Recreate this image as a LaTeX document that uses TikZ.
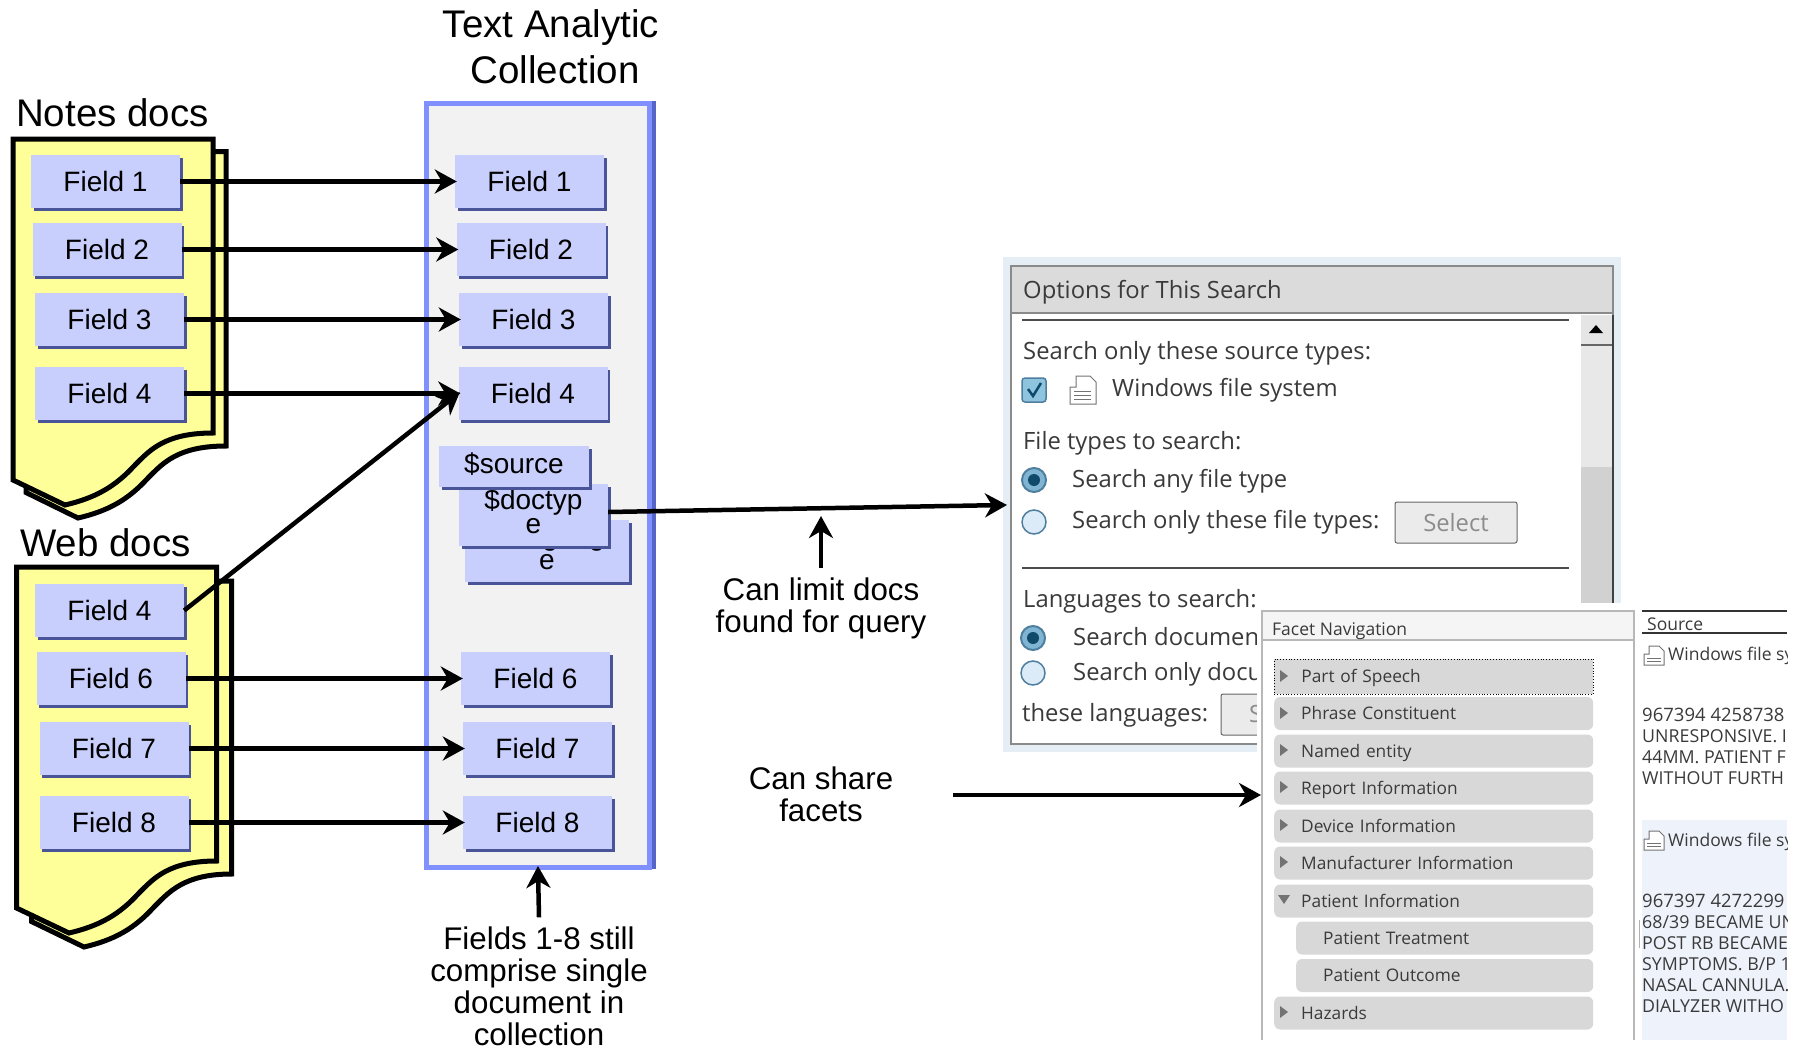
\documentclass[tikz,border=0pt]{standalone}
\usepackage{fontspec}
\setmainfont{Liberation Sans}
\newfontfamily\uifont{Open Sans}
\usetikzlibrary{arrows.meta,shadows}
\definecolor{sheetyellow}{HTML}{FFFF99}
\definecolor{fieldblue}{HTML}{C8CFFC}
\definecolor{fieldshade}{HTML}{4A5499}
\definecolor{colblue}{HTML}{8090FF}
\definecolor{coldark}{HTML}{5565C8}
\definecolor{colgray}{HTML}{F2F2F2}
\definecolor{uitext}{HTML}{3A3A3A}
\definecolor{uirow}{HTML}{D8D8D8}
\definecolor{uihalo}{HTML}{E4EEF4}
\definecolor{uirule}{HTML}{8A8A8A}
\definecolor{uiblue}{HTML}{EEF3FB}
\definecolor{radioring}{HTML}{4F7F9E}
\definecolor{radiopale}{HTML}{DCEBF8}
\definecolor{radiofill}{HTML}{7FB4D2}
\definecolor{radiodot}{HTML}{0F4A6A}
\definecolor{checkfill}{HTML}{8FC4DF}
\begin{document}
\begin{tikzpicture}[x=1pt, y=-1pt,
  sheet/.style={draw=black, fill=sheetyellow, line width=5pt, line join=miter},
  fieldbox/.style={fill=fieldblue, minimum width=149pt, minimum height=53pt, inner sep=0pt, align=center, font=\fontsize{28}{24}\selectfont, drop shadow={shadow xshift=2.5pt, shadow yshift=-2.5pt, fill=fieldshade, opacity=1}},
  flow/.style={-{Stealth[length=22pt,width=24pt,inset=7pt]}, line width=4.5pt, shorten >=-2pt},
  bigtext/.style={inner sep=0pt, font=\fontsize{38.5}{44}\selectfont},
  notetext/.style={inner sep=9pt, align=center, font=\fontsize{31.3}{32}\selectfont},
  uilabel/.style={anchor=west, inner sep=0pt, text=uitext, text height=18pt, text depth=2pt, font=\uifont\fontsize{23.8}{24}\selectfont},
  uismall/.style={anchor=west, inner sep=0pt, text=uitext, text height=16pt, text depth=2pt, font=\uifont\fontsize{17.5}{18}\selectfont},
  uicaps/.style={uismall, font=\uifont\fontsize{17.8}{18}\selectfont},
  uicode/.style={uismall, font=\uifont\fontsize{18.5}{19}\selectfont},
  facetrow/.style={anchor=west, fill=uirow, rounded corners=6pt, minimum height=33pt, text width=265pt, inner xsep=27pt, inner ysep=0pt, align=left, text=uitext, text height=15pt, text depth=3pt, font=\uifont\fontsize{17.3}{18}\selectfont},
  facetsub/.style={facetrow, text width=243pt},
  radio/.style={draw=radioring, line width=1.5pt, fill=radiopale},
  radioon/.style={draw=radioring, line width=2pt, fill=radiofill},
  uimark/.style={fill=black!55},
  iconline/.style={draw=black!55, line width=1pt}]
\useasboundingbox (0,0) rectangle (1798,1049);
\fill[white] (0,0) rectangle (1798,1049);

\node[bigtext] (TITLEA) at (551,28) {Text Analytic};
\node[bigtext] (TITLEB) at (555,69.5) {Collection};
\node[bigtext, anchor=west] (NOTESLBL) at (16,113) {Notes docs};
\node[bigtext, anchor=west] (WEBLBL) at (20,543) {Web docs};

\draw[sheet] (26,151.5) -- (226,151.5) -- (226,446) .. controls (178,446) and (163,463) .. (148,478) .. controls (128,500) and (108,511) .. (78,518) -- (26,492.5) -- cycle;
\draw[sheet] (13,139) -- (213,139) -- (213,433) .. controls (165,433) and (150,450) .. (135,465) .. controls (115,487) and (95,498) .. (65,505) -- (13,480) -- cycle;
\draw[sheet] (31.5,581) -- (231.5,581) -- (231.5,874) .. controls (184,874) and (169,892) .. (154,907) .. controls (134,929) and (114,940) .. (84,947) -- (31.5,921.5) -- cycle;
\draw[sheet] (16.5,567) -- (216.5,567) -- (216.5,861) .. controls (169,861) and (154,878) .. (139,893) .. controls (119,915) and (99,926) .. (69,933) -- (16.5,908) -- cycle;

\node[draw=colblue, fill=colgray, line width=5pt, minimum width=223pt, minimum height=764pt, inner sep=0pt] (COLBOX) at (538,485) {};
\draw[coldark, line width=4pt] (654,101) -- (654,869);

\node[fieldbox] (L1) at (105.5,181.5) {Field 1};
\node[fieldbox] (L2) at (107,249.5) {Field 2};
\node[fieldbox] (L3) at (109.5,319.5) {Field 3};
\node[fieldbox] (L4) at (109.5,393.5) {Field 4};
\node[fieldbox] (W4) at (109.5,610.5) {Field 4};
\node[fieldbox] (W6) at (111,678.5) {Field 6};
\node[fieldbox] (W7) at (114,748.5) {Field 7};
\node[fieldbox] (W8) at (114,822.5) {Field 8};

\node[fieldbox] (R1) at (529.5,181.5) {Field 1};
\node[fieldbox] (R2) at (531,249.5) {Field 2};
\node[fieldbox] (R3) at (533.5,319.5) {Field 3};
\node[fieldbox] (R4) at (533,393.5) {Field 4};
\node[fieldbox] (R6) at (535.5,678.5) {Field 6};
\node[fieldbox] (R7) at (537.5,748.5) {Field 7};
\node[fieldbox] (R8) at (537.5,822.5) {Field 8};
\node[fieldbox, minimum width=164pt, minimum height=62pt] (RLANG) at (547,551) {\$languag\\e\\[-16pt]\mbox{}};
\node[fieldbox, minimum height=62pt] (RTYPE) at (533.5,515) {\$doctyp\\e\\[-16pt]\mbox{}};
\node[fieldbox, minimum width=150pt, minimum height=41pt] (RSRC) at (514,466.5) {\$source\\[-17pt]\mbox{}};

\draw[flow] (L1.east) -- (R1.west);
\draw[flow] (L2.east) -- (R2.west);
\draw[flow] (L3.east) -- (R3.west);
\draw[flow] (L4.east) -- (R4.west);
\draw[flow] (W4.east) -- (R4.west);
\draw[flow] (W6.east) -- (R6.west);
\draw[flow] (W7.east) -- (R7.west);
\draw[flow] (W8.east) -- (R8.west);

\node[notetext] (LIMITLBL) at (821,608) {Can limit docs\\found for query};
\node[notetext] (SHARELBL) at (821,794.5) {Can share\\facets};
\node[notetext] (FIELDSLBL) at (539,986) {Fields 1-8 still\\comprise single\\document in\\collection};

\fill[uihalo] (1003,257) rectangle (1621,752);
\draw[fill=white, draw=uirule, line width=2pt] (1011,266) rectangle (1613,744);
\fill[black!14, draw=uirule, line width=2pt] (1011,266) rectangle (1613,313);
\node[uilabel] (OPTTITLE) at (1023,290) {Options for This Search};
\draw[black!70, line width=1.5pt] (1022,320) -- (1569,320);
\draw[black!70, line width=1.5pt] (1022,568) -- (1569,568);
\fill[black!9] (1581,345) rectangle (1612,467);
\fill[black!18] (1581,467) rectangle (1612,604);
\fill[black!10] (1581,315) rectangle (1612,345);
\draw[black!60, line width=2pt] (1581,345) -- (1612,345);
\fill[black] (1589,333) -- (1603,333) -- (1596,325) -- cycle;
\draw[black!75, line width=2pt] (1613,315) -- (1613,603);
\node[uilabel] (OPTSRC) at (1023,351) {Search only these source types:};
\draw[draw=radioring, fill=checkfill, rounded corners=3pt, line width=1.5pt] (1022,378) rectangle (1046,402);
\draw[radiodot, line width=2.5pt] (1028,389) -- (1033,396) -- (1041,383);
\draw[iconline, fill=white] (1076,376) -- (1090,376) -- (1096,382) -- (1096,404) -- (1070,404) -- (1070,387) -- (1076,387) -- cycle;
\draw[iconline] (1074,391) -- (1091,391);
\draw[iconline] (1074,395) -- (1091,395);
\draw[iconline] (1074,399) -- (1091,399);
\node[uilabel] (OPTWIN) at (1112,388) {Windows file system};
\node[uilabel] (OPTTYPES) at (1023,441) {File types to search:};
\draw[radioon] (1034,480) circle (12);
\fill[radiodot] (1034,480) circle (6);
\node[uilabel] (OPTANY) at (1072,479) {Search any file type};
\draw[radio] (1034,522) circle (12);
\node[uilabel] (OPTONLY) at (1072,520) {Search only these file types:};
\node[draw=black!60, fill=black!8, rounded corners=2pt, line width=1pt, minimum width=122pt, minimum height=41pt, inner sep=0pt, text=black!45, font=\uifont\fontsize{23.8}{24}\selectfont] (OPTSELECT) at (1456,522.5) {Select};
\node[uilabel] (OPTLANG) at (1023,599) {Languages to search:};
\draw[radioon] (1033,638) circle (12);
\fill[radiodot] (1033,638) circle (6);
\node[uilabel] (OPTDOC) at (1073,637) {Search documen};
\draw[radio] (1033,673) circle (12);
\node[uilabel] (OPTDOCU) at (1073,672) {Search only docu};
\node[uilabel] (OPTTHESE) at (1022,713) {these languages:};
\draw[draw=black!60, fill=black!8, rounded corners=2pt, line width=1pt] (1221,694) rectangle (1300,735);
\node[uilabel, text=black!45] (OPTS) at (1249,714) {S};

\fill[white] (1257,603) rectangle (1798,1049);
\fill[black!4] (1262,611) rectangle (1634,640);
\draw[black!28, line width=1.5pt] (1262,1040) -- (1262,611) -- (1634,611) -- (1634,1040);
\draw[black!28, line width=1.5pt] (1262,640) -- (1634,640);
\node[uismall] (FACETTITLE) at (1272,628) {Facet Navigation};
\node[facetrow, rounded corners=0pt, draw=black, dotted, line width=.8pt, minimum height=35pt] (FR1) at (1274,676.5) {Part of Speech};
\node[facetrow] (FR2) at (1274,713.5) {Phrase Constituent};
\node[facetrow] (FR3) at (1274,751) {Named entity};
\node[facetrow] (FR4) at (1274,788) {Report Information};
\node[facetrow] (FR5) at (1274,826) {Device Information};
\node[facetrow] (FR6) at (1274,863) {Manufacturer Information};
\node[facetrow] (FR7) at (1274,901) {Patient Information};
\node[facetsub] (FR8) at (1296,938) {Patient Treatment};
\node[facetsub] (FR9) at (1296,975.5) {Patient Outcome};
\node[facetrow] (FR10) at (1274,1013) {Hazards};
\fill[uimark] (1280,670) -- (1280,682) -- (1288,676) -- cycle;
\fill[uimark] (1280,707) -- (1280,719) -- (1288,713) -- cycle;
\fill[uimark] (1280,744) -- (1280,756) -- (1288,750) -- cycle;
\fill[uimark] (1280,781) -- (1280,793) -- (1288,787) -- cycle;
\fill[uimark] (1280,819) -- (1280,831) -- (1288,825) -- cycle;
\fill[uimark] (1280,856) -- (1280,868) -- (1288,862) -- cycle;
\fill[uimark] (1278,895) -- (1290,895) -- (1284,904) -- cycle;
\fill[uimark] (1280,1006) -- (1280,1018) -- (1288,1012) -- cycle;

\begin{scope}
\clip (1636,605) rectangle (1787,1040);
\fill[uiblue] (1642,820) rectangle (1787,1040);
\draw[black!80, line width=1.5pt] (1642,611) -- (1787,611);
\draw[black!80, line width=1.5pt] (1642,633) -- (1787,633);
\node[uismall] (SRCHEAD) at (1647,623) {Source};
\draw[iconline, fill=white] (1649,646) -- (1659,646) -- (1664,651) -- (1664,665) -- (1644,665) -- (1644,654) -- (1649,654) -- cycle;
\draw[iconline] (1647,658) -- (1661,658);
\draw[iconline] (1647,661) -- (1661,661);
\node[uismall] (SRCWINA) at (1668,653) {Windows file sy};
\node[uicode] (SRCA1) at (1642,714) {967394 4258738};
\node[uicaps] (SRCA2) at (1642,735) {UNRESPONSIVE. I};
\node[uicaps] (SRCA3) at (1642,756) {44MM. PATIENT F};
\node[uicaps] (SRCA4) at (1642,777) {WITHOUT FURTH};
\draw[iconline, fill=white] (1649,831) -- (1659,831) -- (1664,836) -- (1664,850) -- (1644,850) -- (1644,839) -- (1649,839) -- cycle;
\draw[iconline] (1647,843) -- (1661,843);
\draw[iconline] (1647,846) -- (1661,846);
\node[uismall] (SRCWINB) at (1668,839) {Windows file sy};
\node[uicode] (SRCB1) at (1642,900) {967397 4272299};
\node[uicaps] (SRCB2) at (1642,921) {68/39 BECAME UN};
\node[uicaps] (SRCB3) at (1642,942) {POST RB BECAME};
\node[uicaps] (SRCB4) at (1642,963) {SYMPTOMS. B/P 1};
\node[uicaps] (SRCB5) at (1642,984) {NASAL CANNULA.};
\node[uicaps] (SRCB6) at (1642,1005) {DIALYZER WITHO};
\end{scope}
\draw[black!30, line width=1pt] (1639,920) -- (1639,948);

\coordinate (OPTIN) at (1005,505);
\coordinate (LIMITTIP) at (821,518);
\coordinate (SHAREOUT) at (953,795);
\coordinate (FACETIN) at (1259,795);
\draw[flow] ([yshift=3pt]RTYPE.east) -- (OPTIN);
\draw[flow] (LIMITLBL.north) -- (LIMITTIP);
\draw[flow] (SHAREOUT) -- (FACETIN);
\draw[flow, shorten >=-3.5pt] (FIELDSLBL.north) -- (COLBOX.south);
\end{tikzpicture}
\end{document}
